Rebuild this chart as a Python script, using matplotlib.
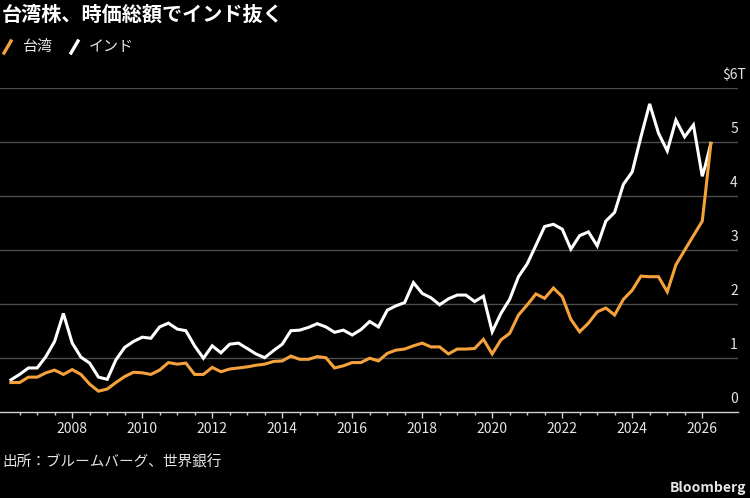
import matplotlib
matplotlib.use("Agg")
import matplotlib.pyplot as plt
from matplotlib.lines import Line2D
from matplotlib.ticker import FixedLocator
import numpy as np
import pandas as pd

plt.rcParams["font.family"] = ["Noto Sans CJK JP", "DejaVu Sans"]

# ---------------------------------------------------------------------------
# Data: market cap, trillions of USD
# ---------------------------------------------------------------------------
quarter_ends = pd.date_range("2006-03-31", "2025-12-31", freq="QE")
latest = pd.to_datetime(["2026-01-31", "2026-03-31"])
dates = quarter_ends.append(latest)

taiwan = [
    0.54, 0.54, 0.64, 0.64, 0.72, 0.77, 0.69, 0.78, 0.69, 0.51,
    0.38, 0.42, 0.54, 0.65, 0.73, 0.72, 0.69, 0.77, 0.91, 0.88,
    0.90, 0.69, 0.69, 0.82, 0.74, 0.79, 0.81, 0.83, 0.86, 0.88,
    0.93, 0.94, 1.03, 0.97, 0.97, 1.02, 1.00, 0.81, 0.85, 0.91,
    0.91, 0.99, 0.94, 1.08, 1.14, 1.16, 1.22, 1.27, 1.20, 1.20,
    1.07, 1.16, 1.16, 1.17, 1.34, 1.07, 1.33, 1.45, 1.79, 1.98,
    2.18, 2.10, 2.29, 2.13, 1.71, 1.48, 1.64, 1.85, 1.92, 1.79,
    2.08, 2.25, 2.51, 2.50, 2.50, 2.22, 2.72, 2.99, 3.26, 3.53,
    4.01, 4.97,
]
india = [
    0.59, 0.69, 0.81, 0.81, 1.02, 1.30, 1.82, 1.27, 1.01, 0.90,
    0.64, 0.60, 0.96, 1.19, 1.30, 1.38, 1.36, 1.57, 1.64, 1.53,
    1.50, 1.22, 0.99, 1.22, 1.09, 1.25, 1.27, 1.17, 1.07, 1.00,
    1.13, 1.25, 1.50, 1.51, 1.56, 1.63, 1.57, 1.47, 1.51, 1.42,
    1.52, 1.67, 1.57, 1.88, 1.96, 2.02, 2.39, 2.19, 2.11, 1.98,
    2.09, 2.16, 2.16, 2.04, 2.14, 1.48, 1.82, 2.08, 2.50, 2.74,
    3.08, 3.43, 3.47, 3.38, 3.01, 3.26, 3.33, 3.07, 3.53, 3.69,
    4.21, 4.44, 5.09, 5.70, 5.16, 4.83, 5.40, 5.09, 5.31, 4.36,
    4.55, 4.97,
]

y_values = [0, 1, 2, 3, 4, 5, 6]
y_labels = ["0", "1", "2", "3", "4", "5", "$6T"]
year_ticks = list(range(2008, 2027, 2))

TITLE = "台湾株、時価総額でインド抜く"
SOURCE = "出所：ブルームバーグ、世界銀行"
NAME_TW = "台湾"
NAME_IN = "インド"

COLOR_TW = "#f5a23d"
COLOR_IN = "#ffffff"
TEXT_COLOR = "#e6e6e6"
GRID_COLOR = "#4d4d4d"

# decimal years for the x axis
x = (dates - pd.Timestamp("2000-01-01")).days / 365.25 + 2000

# ---------------------------------------------------------------------------
# Plot
# ---------------------------------------------------------------------------
W, H = 750, 498
fig = plt.figure(figsize=(W / 100, H / 100), dpi=100, facecolor="black")
ax = fig.add_axes([0.0, 0.1733, 0.984, 0.6506], facecolor="black")

ax.plot(x, india, color=COLOR_IN, linewidth=2.2, solid_joinstyle="miter", zorder=3)
ax.plot(x, taiwan, color=COLOR_TW, linewidth=2.2, solid_joinstyle="miter", zorder=4)

ax.set_xlim(2005.934, 2027.02)
ax.set_ylim(0, 6)

# horizontal gridlines + labels sitting above them on the right
for v, lbl in zip(y_values, y_labels):
    if v > 0:
        ax.axhline(v, color=GRID_COLOR, linewidth=1.0, zorder=1)
    ax.annotate(lbl, xy=(0.9946, v), xycoords=("axes fraction", "data"),
                xytext=(0, 9.3), textcoords="offset points",
                ha="center", va="center", fontsize=10, color=TEXT_COLOR,
                annotation_clip=False)

ax.set_yticks([])
for side in ["left", "right", "top"]:
    ax.spines[side].set_visible(False)
ax.spines["bottom"].set_color("#d0d0d0")
ax.spines["bottom"].set_linewidth(1.0)

ax.xaxis.set_major_locator(FixedLocator(year_ticks))
ax.xaxis.set_minor_locator(FixedLocator(np.arange(2006.5, 2026, 0.5)))
ax.set_xticklabels([str(y) for y in year_ticks])
ax.tick_params(axis="x", which="major", length=4.5, width=1, color="#d0d0d0",
               labelsize=10, labelcolor=TEXT_COLOR, pad=3)
ax.tick_params(axis="x", which="minor", length=2.5, width=1, color="#d0d0d0")

# title
fig.text(2 / W, 1 - 14 / H, TITLE, fontsize=14.5, fontweight="bold",
         color="white", ha="left", va="center")

# legend: short slashes + names
def slash(x0, color):
    fig.add_artist(Line2D([x0 / W, (x0 + 7) / W], [1 - 53 / H, 1 - 41 / H],
                          transform=fig.transFigure, color=color, linewidth=2.4))

slash(4, COLOR_TW)
fig.text(22 / W, 1 - 47 / H, NAME_TW, fontsize=10.8, color=TEXT_COLOR,
         ha="left", va="center")
slash(71, COLOR_IN)
fig.text(89 / W, 1 - 47 / H, NAME_IN, fontsize=10.8, color=TEXT_COLOR,
         ha="left", va="center")

# source + brand
fig.text(2 / W, 1 - 462 / H, SOURCE, fontsize=10.5, color=TEXT_COLOR,
         ha="left", va="center")
fig.text(746 / W, 1 - 488 / H, "Bloomberg", fontsize=10, fontweight="bold",
         color=TEXT_COLOR, ha="right", va="center")

fig.savefig("out.png", dpi=100, facecolor="black")
